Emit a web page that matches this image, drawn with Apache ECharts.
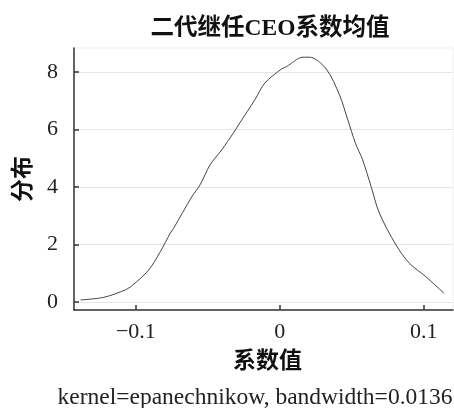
<!DOCTYPE html>
<html><head><meta charset="utf-8">
<script src="https://cdn.jsdelivr.net/npm/echarts@6/dist/echarts.min.js"></script>
<style>html,body{margin:0;padding:0;background:#fff}#c{width:454px;height:408px}</style>
</head><body><div id="c"></div>
<script>
const xValues = [-0.1384,-0.1223,-0.1073,-0.1026,-0.0911,-0.0830,-0.0761,-0.0738,-0.0611,-0.0554,-0.0484,-0.0403,-0.0323,-0.0277,-0.0173,-0.0104,0.0012,0.0046,0.0161,0.0208,0.0323,0.0415,0.0473,0.0526,0.0576,0.0635,0.0692,0.0808,0.0900,0.1015,0.1142];
const density = [0.07,0.16,0.42,0.57,1.11,1.75,2.39,2.56,3.66,4.07,4.77,5.29,5.87,6.23,7.03,7.61,8.10,8.18,8.51,8.51,8.10,7.20,6.33,5.52,4.94,4.01,3.09,1.98,1.35,0.88,0.30];
const xTicks = [-0.1, 0, 0.1];
const yTicks = [0, 2, 4, 6, 8];
const titleText = '二代继任CEO系数均值';
const xName = '系数值';
const yName = '分布';
const note = 'kernel=epanechnikow, bandwidth=0.0136';

const serif = "'Liberation Serif','Noto Sans CJK SC'";
const chart = echarts.init(document.getElementById('c'));
chart.setOption({
  animation: false,
  title: [{
    text: titleText, left: 265, top: 12, textAlign: 'center',
    textStyle: {fontFamily: serif, fontWeight: 'bold', fontSize: 23.5, color: '#111'}
  },{
    text: note, left: 250, top: 381, textAlign: 'center',
    textStyle: {fontFamily: serif, fontWeight: 'normal', fontSize: 23.5, color: '#222'}
  }],
  grid: {left: 74, right: 1, top: 48, bottom: 98, show: true, borderColor: '#efefef', borderWidth: 1},
  xAxis: {
    type: 'value', min: -0.143, max: 0.1204,
    name: xName, nameLocation: 'middle', nameGap: 38,
    nameTextStyle: {fontFamily: "'Noto Sans CJK SC'", fontWeight: 'bold', fontSize: 23, color: '#111', padding: [0, 0, 0, 8]},
    axisLine: {show: true, onZero: false, lineStyle: {color: '#333', width: 1.5}},
    axisTick: {show: true, inside: true, length: 5, lineStyle: {color: '#333', width: 1.5}, customValues: xTicks},
    axisLabel: {customValues: xTicks, fontFamily: serif, fontSize: 22, color: '#222', margin: 11,
      formatter: v => (v < 0 ? '\u2212' : '') + String(Math.abs(v))},
    splitLine: {show: false}
  },
  yAxis: {
    type: 'value', min: -0.28, max: 8.83,
    name: yName, nameLocation: 'middle', nameGap: 41, nameRotate: 90,
    nameTextStyle: {fontFamily: "'Noto Sans CJK SC'", fontWeight: 'bold', fontSize: 23, color: '#111'},
    axisLine: {show: true, onZero: false, lineStyle: {color: '#333', width: 1.5}},
    axisTick: {show: true, inside: true, length: 5, lineStyle: {color: '#333', width: 1.5}, customValues: yTicks},
    axisLabel: {customValues: yTicks, fontFamily: serif, fontSize: 22, color: '#222', margin: 16},
    splitLine: {show: true, lineStyle: {color: '#e6e6e6', width: 1}}
  },
  series: [{
    type: 'line', data: xValues.map((x, i) => [x, density[i]]),
    smooth: 0.3, showSymbol: false,
    lineStyle: {color: '#444', width: 1}
  }]
});
</script></body></html>
